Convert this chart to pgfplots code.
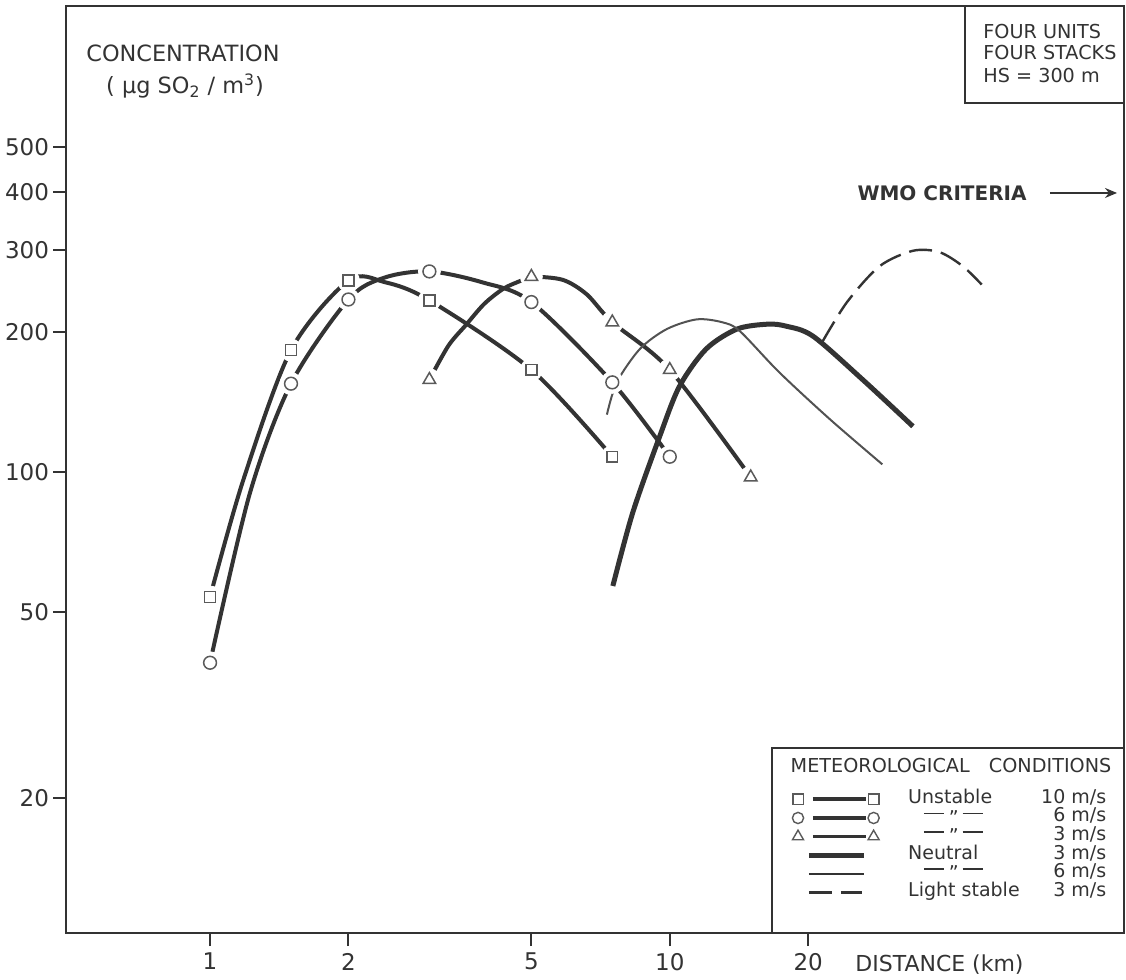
\documentclass[border=0pt]{standalone}
\usepackage{fontspec}
\setmainfont{DejaVu Sans}
\usepackage{pgfplots}
\pgfplotsset{compat=1.18}
\usetikzlibrary{arrows.meta}
\definecolor{ink}{HTML}{333333}
\definecolor{mk}{HTML}{5A5A5A}
\newcommand\fs[1]{\fontsize{#1}{#1}\selectfont}
\newcommand\ditto{\rule[0.42em]{10pt}{0.7pt}\hspace{2.5pt}\raisebox{-0.12em}[0.6em][0pt]{''}\hspace{2pt}\rule[0.42em]{10pt}{0.7pt}}

\pgfplotstableread{
x y
1 54
1.18 96
1.5 183
2 258
2.4 256
3 234
5 166
7.5 108
}\sqcurve
\pgfplotstableread{
x y
1 54
1.5 183
2 258
3 234
5 166
7.5 108
}\sqmarks
\pgfplotstableread{
x y
1 39
1.22 90
1.5 155
2 235
2.4 262
3 270
3.9 256
5 232
7.5 156
10 108
}\cicurve
\pgfplotstableread{
x y
1 39
1.5 155
2 235
3 270
5 232
7.5 156
10 108
}\cimarks
\pgfplotstableread{
x y
3 158
3.3 187
3.6 207
3.95 230
4.35 248
4.75 258
5 263
5.85 259
6.6 241
7.5 210
10 166
15 97.6
}\trcurve
\pgfplotstableread{
x y
3 158
5 263
7.5 210
10 166
15 97.6
}\trmarks
\pgfplotstableread{
x y
7.52 57
8.31 82
9.51 119.5
10.5 153
12 184
14 203
16.3 208
17.9 206
20.5 196
26.3 158
33.8 125.5
}\neutralthree
\pgfplotstableread{
x y
7.30 133
7.67 156
8.61 184
9.85 203
11.45 213
13 210
14.2 201
17.3 164
22.3 130
29 104
}\neutralsix
\pgfplotstableread{
x y
21.5 191
24.3 232
28.6 277
33.8 299
38.6 297
43.4 277
47.7 253
}\lightstable

\begin{document}
\begin{tikzpicture}
\begin{axis}[
  xmode=log, ymode=log,
  scale only axis, width=529pt, height=463.5pt,
  xmin=0.486, xmax=97.3, ymin=10.25, ymax=1003,
  clip=false,
  axis line style={line width=1pt, ink},
  xtick={1,2,5,10,20}, xticklabels={1,2,5,10,20},
  ytick={20,50,100,200,300,400,500}, yticklabels={20,50,100,200,300,400,500},
  minor xtick={}, minor ytick={},
  tick align=outside, xtick pos=bottom, ytick pos=left,
  major tick length=6.5pt,
  tick style={line width=1pt, ink},
  tick label style={font=\fs{11.5}, text=ink},
  yticklabel style={xshift=1.5pt},
  /pgf/number format/assume math mode=true,
  legend style={
    at={(0.6862,0.1546)}, anchor=north west,
    draw=none, fill=none,
    inner xsep=0pt, inner ysep=0pt,
    font=\fs{9.5}, text=ink,
    column sep=14.5pt, row sep=0pt,
    nodes={inner sep=0pt, text height=6.6pt, text depth=2.7pt},
  },
  legend cell align=left,
]
% ---- legend entries ----
\addlegendimage{legend image code/.code={
  \draw[ink, line width=1.9pt] (10pt,0pt) -- (36.5pt,0pt);
  \draw[mk, line width=0.7pt, fill=white] plot[only marks, mark=square*, mark size=2.6pt] coordinates {(2.6pt,0pt) (40.4pt,0pt)};
}}
\addlegendentry{\makebox[99pt]{Unstable\hfill 10 m/s}}
\addlegendimage{legend image code/.code={
  \draw[ink, line width=1.9pt] (10pt,0pt) -- (36.5pt,0pt);
  \draw[mk, line width=0.7pt, fill=white] plot[only marks, mark=*, mark size=2.8pt] coordinates {(2.6pt,0pt) (40.4pt,0pt)};
}}
\addlegendentry{\makebox[99pt]{\makebox[45pt]{\ditto}\hfill 6 m/s}}
\addlegendimage{legend image code/.code={
  \draw[ink, line width=1.9pt] (10pt,0pt) -- (36.5pt,0pt);
  \draw[mk, line width=0.7pt, fill=white] plot[only marks, mark=triangle*, mark size=3.2pt] coordinates {(2.6pt,0pt) (40.4pt,0pt)};
}}
\addlegendentry{\makebox[99pt]{\makebox[45pt]{\ditto}\hfill 3 m/s}}
\addlegendimage{legend image code/.code={
  \draw[ink, line width=2.5pt] (8pt,0pt) -- (35.5pt,0pt);
}}
\addlegendentry{\makebox[99pt]{Neutral\hfill 3 m/s}}
\addlegendimage{legend image code/.code={
  \draw[ink, line width=1pt] (8pt,0pt) -- (35.5pt,0pt);
}}
\addlegendentry{\makebox[99pt]{\makebox[45pt]{\ditto}\hfill 6 m/s}}
\addlegendimage{legend image code/.code={
  \draw[ink, line width=1.2pt] (8pt,0pt) -- (19.5pt,0pt);
  \draw[ink, line width=1.2pt] (24pt,0pt) -- (34.5pt,0pt);
}}
\addlegendentry{\makebox[99pt]{Light stable\hfill 3 m/s}}

% ---- unstable curves with gaps round the marks ----
\addplot[ink, line width=2pt, smooth, tension=0.5, forget plot] table {\sqcurve};
\addplot[only marks, mark=*, mark size=5.5pt, color=white, forget plot] table {\sqmarks};
\addplot[ink, line width=2pt, smooth, tension=0.5, forget plot] table {\cicurve};
\addplot[only marks, mark=*, mark size=5.5pt, color=white, forget plot] table {\cimarks};
\addplot[ink, line width=2pt, smooth, tension=0.5, forget plot] table {\trcurve};
\addplot[only marks, mark=*, mark size=5.5pt, color=white, forget plot] table {\trmarks};

% ---- neutral and light stable ----
\addplot[ink, line width=2.5pt, smooth, tension=0.5, forget plot] table {\neutralthree};
\addplot[ink!85, line width=1pt, smooth, tension=0.5, forget plot] table {\neutralsix};
\addplot[ink, line width=1.2pt, smooth, tension=0.5, dash pattern=on 11.5pt off 4.5pt, forget plot] table {\lightstable};

% ---- marks on top ----
\addplot[only marks, mark=square*, mark size=2.7pt, mark options={draw=mk, fill=white, line width=0.75pt, solid}, forget plot] table {\sqmarks};
\addplot[only marks, mark=*, mark size=3.2pt, mark options={draw=mk, fill=white, line width=0.75pt, solid}, forget plot] table {\cimarks};
\addplot[only marks, mark=triangle*, mark size=3.6pt, mark options={draw=mk, fill=white, line width=0.75pt, solid}, forget plot] table {\trmarks};

% ---- texts ----
\node[font=\fs{11.2}, text=ink] at (rel axis cs:0.1106,0.9493) {CONCENTRATION};
\node[font=\fs{11.2}, text=ink] at (rel axis cs:0.1125,0.9137) {( µg SO\textsubscript{2} / m\textsuperscript{3})};
\draw[ink, line width=0.8pt, fill=white] (rel axis cs:0.8497,1) rectangle (rel axis cs:1,0.8954);
\node[font=\fs{9.6}, text=ink, anchor=west, inner sep=0pt] at (rel axis cs:0.8667,0.9720) {FOUR UNITS};
\node[font=\fs{9.6}, text=ink, anchor=west, inner sep=0pt] at (rel axis cs:0.8667,0.9493) {FOUR STACKS};
\node[font=\fs{9.6}, text=ink, anchor=west, inner sep=0pt] at (rel axis cs:0.8667,0.9245) {HS = 300 m};
\node[font=\bfseries\fs{10}, text=ink, anchor=east, inner sep=0pt] at (rel axis cs:0.9083,0.7983) {WMO CRITERIA};
\draw[ink, line width=0.8pt, -{Stealth[length=6pt,width=5pt]}] (rel axis cs:0.930,0.7983) -- (rel axis cs:0.9934,0.7983);
\node[font=\fs{11}, text=ink, anchor=base west, inner sep=0pt, yshift=-19.1pt] at (rel axis cs:0.7457,0) {DISTANCE (km)};
% legend frame and title
\draw[ink, line width=1pt] (rel axis cs:0.6673,0) rectangle (rel axis cs:1,0.1996);
\node[font=\fs{9.6}, text=ink, inner sep=0pt] at (rel axis cs:0.8365,0.1812) {METEOROLOGICAL\quad CONDITIONS};

\coordinate (BL) at (rel axis cs:0,0);
\coordinate (TR) at (rel axis cs:1,1);
\end{axis}
\pgfresetboundingbox
\path ([xshift=-33pt,yshift=-23pt]BL) rectangle ([xshift=1pt,yshift=3pt]TR);
\end{tikzpicture}
\end{document}
